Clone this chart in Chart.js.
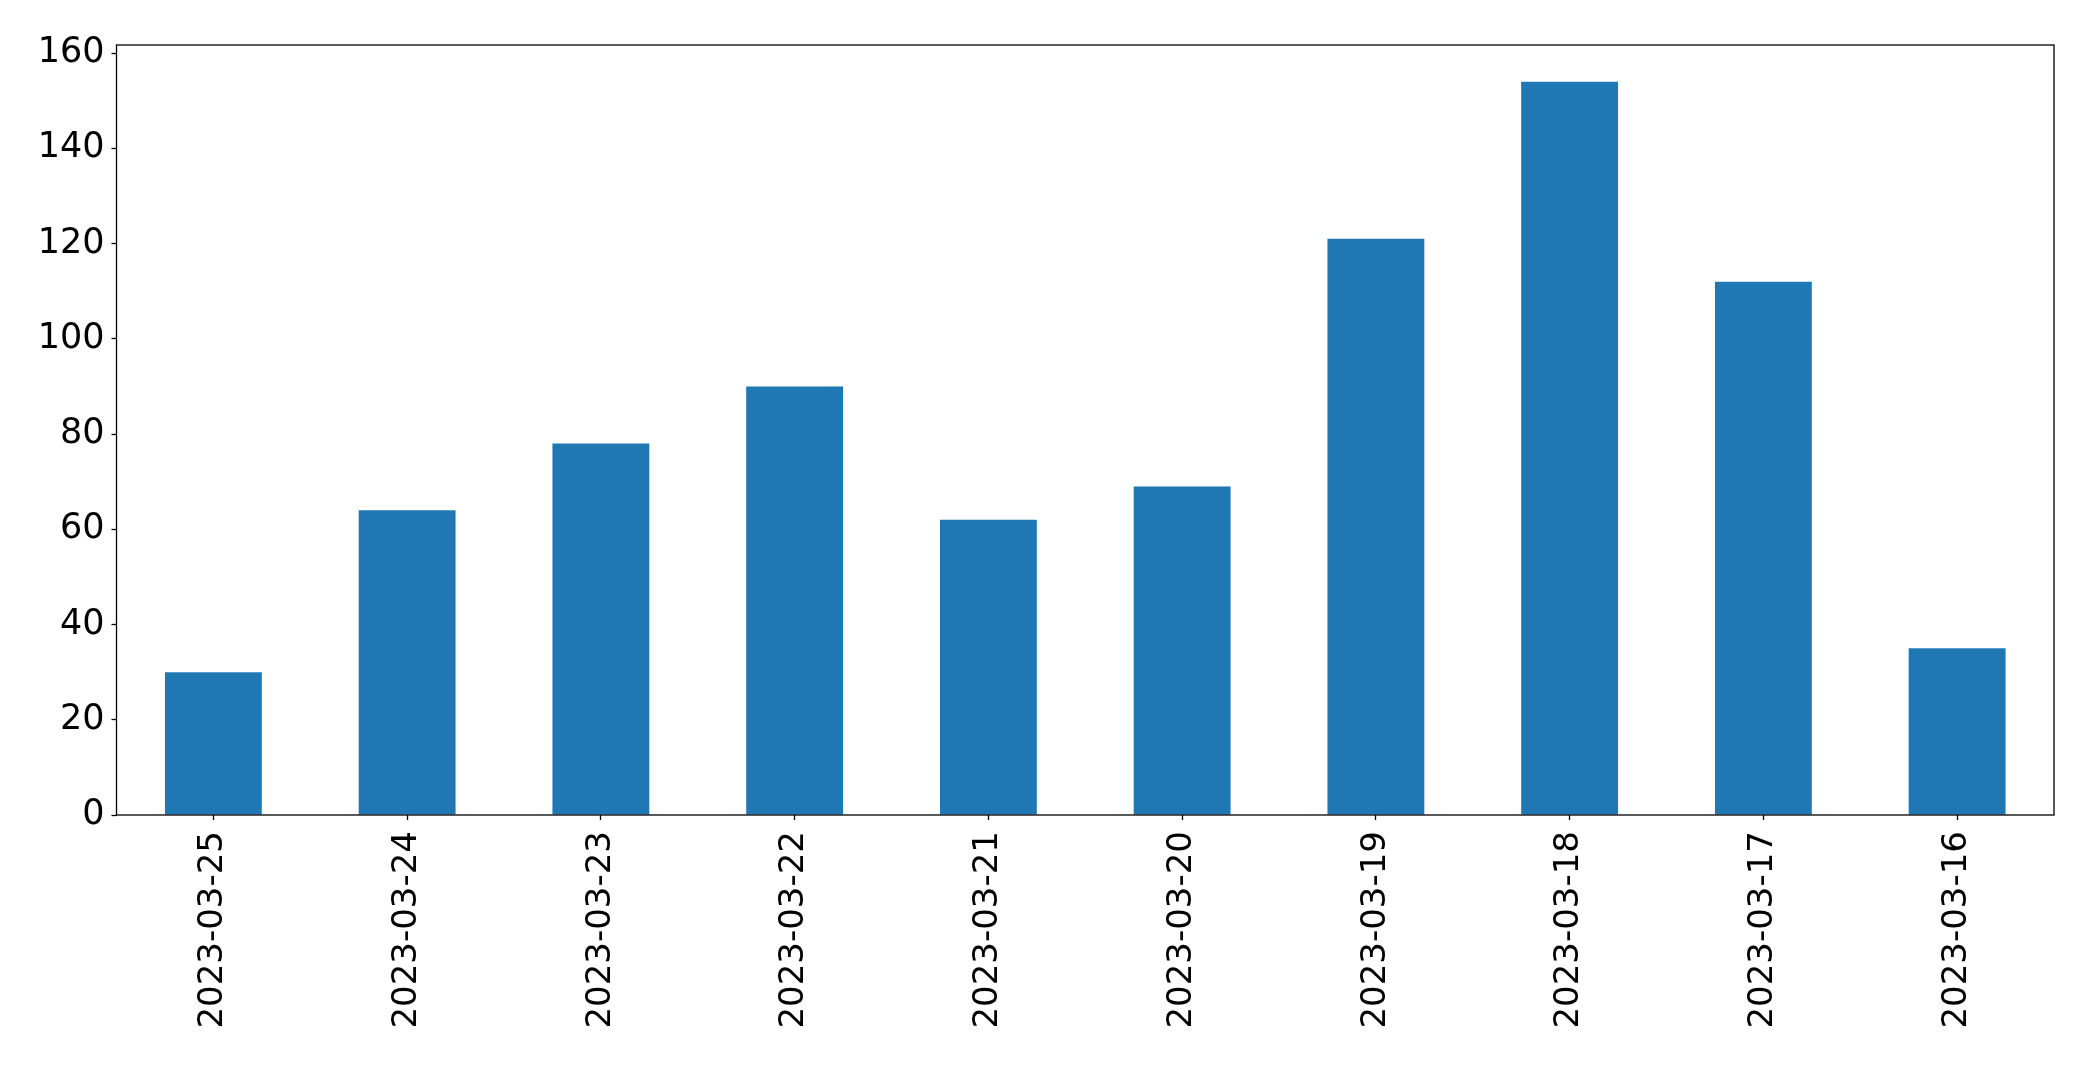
<!DOCTYPE html>
<html>
<head>
<meta charset="utf-8">
<script src="https://cdn.jsdelivr.net/npm/chart.js@4/dist/chart.umd.min.js"></script>
<style>
  body { margin: 0; background: #fff; }
  #myChart { display: block; }
</style>
</head>
<body>
<canvas id="myChart" width="2093" height="1067"></canvas>
<script>
// data
var dates = ['2023-03-25', '2023-03-24', '2023-03-23', '2023-03-22', '2023-03-21',
             '2023-03-20', '2023-03-19', '2023-03-18', '2023-03-17', '2023-03-16'];
var counts = [30, 64, 78, 90, 62, 69, 121, 154, 112, 35];
var yTicks = [0, 20, 40, 60, 80, 100, 120, 140, 160];

var FONT = "'DejaVu Sans', sans-serif";

// draws the box round the plot like matplotlib does
var frame = {
    id: 'frame',
    afterDraw: function(chart){
        var a = chart.chartArea;
        var ctx = chart.ctx;
        ctx.save();
        ctx.strokeStyle = '#000';
        ctx.lineWidth = 1.3;
        ctx.strokeRect(a.left, a.top, a.right - a.left, a.bottom - a.top);
        ctx.restore();
    }
};

var ctx = document.getElementById('myChart').getContext('2d');
var myChart = new Chart(ctx, {
    type: 'bar',
    data: {
        labels: dates,
        datasets: [{
            data: counts,
            backgroundColor: '#1f77b4',
            borderWidth: 0,
            barPercentage: 0.5,
            categoryPercentage: 1.0
        }]
    },
    options: {
        responsive: false,
        animation: false,
        devicePixelRatio: 1,
        layout: { padding: { top: 45, right: 39, left: 0, bottom: 0 } },
        plugins: {
            legend: { display: false },
            tooltip: { enabled: false }
        },
        scales: {
            x: {
                offset: true,
                grid: { display: true, drawOnChartArea: false, drawTicks: true, tickLength: 5, tickWidth: 1.3, color: '#000', offset: false },
                border: { display: false },
                ticks: {
                    autoSkip: false,
                    minRotation: 90,
                    maxRotation: 90,
                    padding: 11,
                    color: '#000',
                    font: { family: FONT, size: 34 }
                },
                afterFit: function(scale){ scale.height = 252; }
            },
            y: {
                min: 0,
                max: 161.7,
                grid: { display: true, drawOnChartArea: false, drawTicks: true, tickLength: 5, tickWidth: 1.3, color: '#000' },
                border: { display: false },
                afterBuildTicks: function(scale){
                    scale.ticks = yTicks.map(function(v){ return { value: v }; });
                },
                ticks: {
                    padding: 7,
                    color: '#000',
                    font: { family: FONT, size: 35 }
                },
                afterFit: function(scale){ scale.width = 116.5; }
            }
        }
    },
    plugins: [frame]
});
</script>
</body>
</html>
